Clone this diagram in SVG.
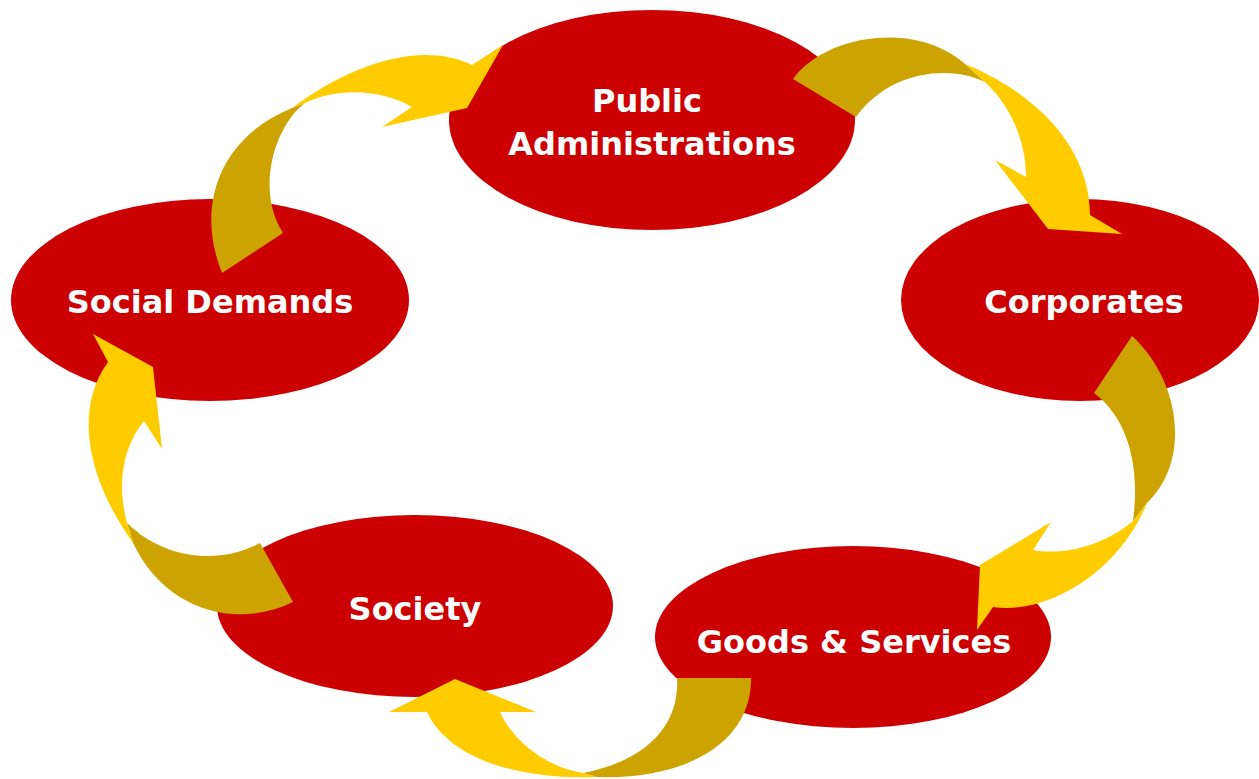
<svg xmlns="http://www.w3.org/2000/svg" width="1259" height="779" viewBox="0 0 1259 779">
<style>
.node{fill:#CC0000}
.lbl{fill:#FFFFFF;font-family:"DejaVu Sans",Verdana,sans-serif;font-weight:bold;font-size:32px;text-anchor:middle}
.tail{fill:#CCA300}
.head{fill:#FFCC00}
</style>
<rect width="1259" height="779" fill="#FFFFFF"/>
<g id="node-public">
<ellipse class="node" cx="652" cy="120" rx="203" ry="110"/>
<text class="lbl" x="647" y="112">Public</text>
<text class="lbl" x="652" y="155">Administrations</text>
</g>
<g id="node-corporates">
<ellipse class="node" cx="1080" cy="300" rx="179" ry="101"/>
<text class="lbl" x="1084" y="313">Corporates</text>
</g>
<g id="node-social">
<ellipse class="node" cx="210" cy="300" rx="199" ry="101"/>
<text class="lbl" x="210" y="313">Social Demands</text>
</g>
<g id="node-society">
<ellipse class="node" cx="415" cy="606" rx="198" ry="91"/>
<text class="lbl" x="415" y="620">Society</text>
</g>
<g id="node-goods">
<ellipse class="node" cx="853" cy="637" rx="198" ry="91"/>
<text class="lbl" x="854" y="653">Goods &amp; Services</text>
</g>
<g id="connectors">
<g id="arrow-public-corporates">
<path class="tail" d="M793,79 C825,35 915,20 965,64 L985,82 C950,65 890,70 856,117 Z"/>
<path class="head" d="M965,64 C1040,95 1090,150 1090,215 L1122,234 L1048,229 L995,160 L1026,177 C1026,140 1010,105 985,82 Z"/>
</g>
<g id="arrow-social-public">
<path class="tail" d="M222,273 C193,200 225,135 292,108 L305,103 C275,125 255,190 283,233 Z"/>
<path class="head" d="M292,108 C350,65 420,40 472,65 L503,45 L467,108 L382,127 L412,107 C380,88 335,88 305,103 Z"/>
</g>
<g id="arrow-society-social">
<path class="tail" d="M293,602 C235,630 165,610 133,543 L127,523 C165,560 220,565 260,543 Z"/>
<path class="head" d="M133,543 C88,480 73,410 108,362 L93,334 L153,367 L162,449 L144,421 C120,450 118,490 127,523 Z"/>
</g>
<g id="arrow-corporates-goods">
<path class="tail" d="M1132,336 C1180,380 1192,460 1147,503 L1133,521 C1140,470 1130,420 1094,393 Z"/>
<path class="head" d="M1147,503 C1120,570 1050,615 993,607 L977,630 L980,565 L1051,522 L1033,550 C1065,556 1105,545 1133,521 Z"/>
</g>
<g id="arrow-goods-society">
<path class="tail" d="M751,678 C752,740 690,780 597,777 L583,773 C640,762 680,730 677,678 Z"/>
<path class="head" d="M597,777 C520,780 450,760 427,712 L389,712 L455,679 L536,712 L500,712 C515,745 550,768 583,773 Z"/>
</g>
</g>
</svg>
